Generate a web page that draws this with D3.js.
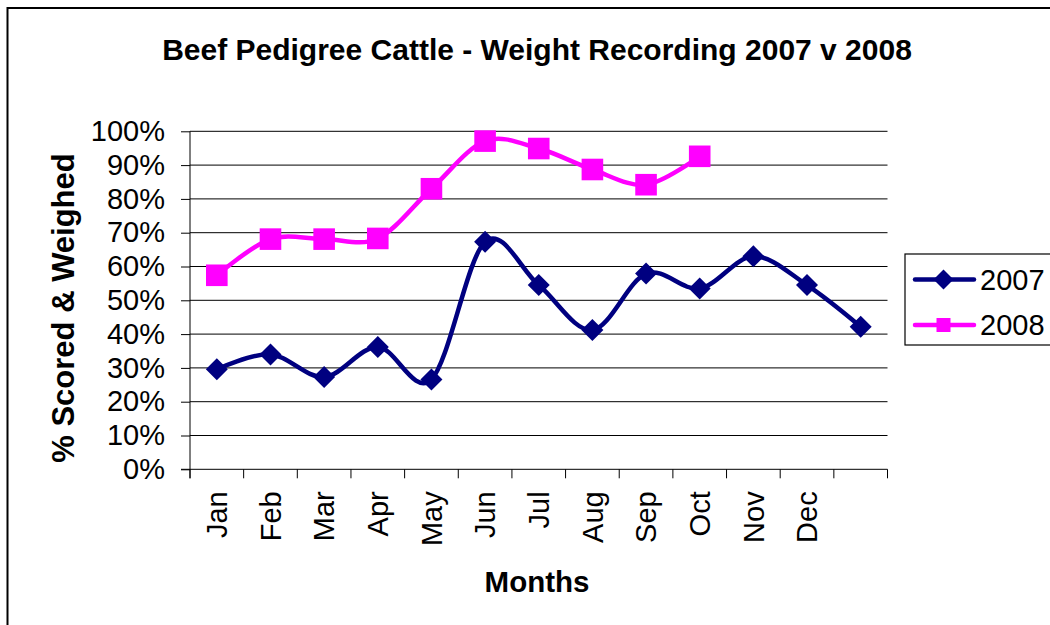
<!DOCTYPE html>
<html>
<head>
<meta charset="utf-8">
<script src="https://cdnjs.cloudflare.com/ajax/libs/d3/7.8.5/d3.min.js"></script>
<style>
	body { margin: 0; background: #fff; }
	text { font-family: "Liberation Sans", Arial, sans-serif; fill: #000; }
</style>
</head>
<body>
<div id="chart"></div>
<script>
	// categories (last slot is blank in the original sheet)
	var months = ["Jan", "Feb", "Mar", "Apr", "May", "Jun", "Jul", "Aug", "Sep", "Oct", "Nov", "Dec", ""];
	var values2007 = [29.6, 34.0, 27.3, 36.2, 26.6, 67.3, 54.5, 41.2, 57.9, 53.5, 63.0, 54.5, 42.2];
	var values2008 = [57.4, 68.1, 68.1, 68.3, 83.0, 97.1, 94.9, 88.7, 84.2, 92.6];
	var yTicks = [0, 10, 20, 30, 40, 50, 60, 70, 80, 90, 100];
	var seriesNames = ["2007", "2008"];
	var seriesColors = ["#000080", "#ff00ff"];

	var WIDTH = 1050, HEIGHT = 625, MARGINS = {
		top : 131.3,
		right : 162.5,
		bottom : 155.7,
		left : 190
	};

	var svg = d3.select('#chart').append('svg').attr('width', WIDTH).attr('height', HEIGHT);

	// chart frame, runs off the right and bottom edges like the original
	svg.append('rect').attr('x', 7.5).attr('y', 8).attr('width', 1100).attr('height', 700)
			.attr('fill', 'none').attr('stroke', '#000').attr('stroke-width', 2);

	var xScale = d3.scaleBand().domain(months).range([ MARGINS.left, WIDTH - MARGINS.right ]);
	var yScale = d3.scaleLinear().domain([ 0, 100 ]).range([ HEIGHT - MARGINS.bottom, MARGINS.top ]);
	var xMid = function(i) { return xScale(months[i]) + xScale.bandwidth() / 2; };

	// gridlines
	svg.append('g').selectAll('line').data(yTicks.slice(1)).enter().append('line')
			.attr('x1', MARGINS.left).attr('x2', WIDTH - MARGINS.right)
			.attr('y1', function(d) { return yScale(d); }).attr('y2', function(d) { return yScale(d); })
			.attr('stroke', '#000').attr('stroke-width', 1);

	// y axis
	var yAxis = d3.axisLeft(yScale).tickValues(yTicks).tickSize(9).tickPadding(16)
			.tickFormat(function(d) { return d + '%'; });
	var gY = svg.append('g').attr('transform', 'translate(' + MARGINS.left + ',0)').call(yAxis);
	gY.select('.domain').attr('d', 'M0,' + MARGINS.top + 'V' + (HEIGHT - MARGINS.bottom + 9));
	gY.selectAll('text').style('font-size', '29px').style('font-family', '"Liberation Sans", Arial, sans-serif');

	// x axis with ticks between categories
	var boundaries = months.map(function(m) { return xScale(m); }).concat([ WIDTH - MARGINS.right ]);
	var gX = svg.append('g');
	gX.append('line').attr('x1', MARGINS.left - 9).attr('x2', WIDTH - MARGINS.right)
			.attr('y1', yScale(0)).attr('y2', yScale(0)).attr('stroke', '#000');
	gX.selectAll('.xtick').data(boundaries).enter().append('line').attr('class', 'xtick')
			.attr('x1', function(d) { return d; }).attr('x2', function(d) { return d; })
			.attr('y1', yScale(0)).attr('y2', yScale(0) + 9).attr('stroke', '#000');
	gX.selectAll('.xlabel').data(months).enter().append('text').attr('class', 'xlabel')
			.attr('transform', function(d, i) { return 'translate(' + xMid(i) + ',' + (yScale(0) + 22) + ') rotate(-90)'; })
			.attr('dy', '0.35em').style('text-anchor', 'end').style('font-size', '29px')
			.text(function(d) { return d; });

	// titles
	svg.append('text').attr('x', 537).attr('y', 60).style('text-anchor', 'middle')
			.style('font-size', '30px').style('font-weight', 'bold')
			.text('Beef Pedigree Cattle - Weight Recording 2007 v 2008');
	svg.append('text').attr('x', 537).attr('y', 592).style('text-anchor', 'middle')
			.style('font-size', '29.5px').style('font-weight', 'bold').text('Months');
	svg.append('text').attr('transform', 'translate(74,308) rotate(-90)').style('text-anchor', 'middle')
			.style('font-size', '31px').style('font-weight', 'bold').text('% Scored & Weighed');

	// series
	var lineGen = d3.line().curve(d3.curveCardinal.tension(0))
			.x(function(d, i) { return xMid(i); }).y(function(d) { return yScale(d); });
	var diamond = function(s) { return 'M0,' + (-s) + 'L' + s + ',0L0,' + s + 'L' + (-s) + ',0Z'; };
	var square = function(s) { return 'M' + (-s) + ',' + (-s) + 'H' + s + 'V' + s + 'H' + (-s) + 'Z'; };

	[ values2007, values2008 ].forEach(function(vals, k) {
		svg.append('path').attr('d', lineGen(vals)).attr('fill', 'none')
				.attr('stroke', seriesColors[k]).attr('stroke-width', 4.5).attr('stroke-linejoin', 'round');
		svg.append('g').selectAll('path').data(vals).enter().append('path')
				.attr('transform', function(d, i) { return 'translate(' + xMid(i) + ',' + yScale(d) + ')'; })
				.attr('d', k === 0 ? diamond(11) : square(10.8)).attr('fill', seriesColors[k]);
	});

	// legend
	var legend = svg.append('g');
	legend.append('rect').attr('x', 905).attr('y', 254).attr('width', 200).attr('height', 91)
			.attr('fill', '#fff').attr('stroke', '#000').attr('stroke-width', 1.2);
	seriesNames.forEach(function(name, k) {
		var ly = 279.5 + k * 45.5;
		legend.append('line').attr('x1', 915).attr('x2', 974).attr('y1', ly).attr('y2', ly)
				.attr('stroke', seriesColors[k]).attr('stroke-width', 4.5).attr('stroke-linecap', 'round');
		legend.append('path').attr('transform', 'translate(943.5,' + ly + ')')
				.attr('d', k === 0 ? diamond(10) : square(7)).attr('fill', seriesColors[k]);
		legend.append('text').attr('x', 980).attr('y', ly).attr('dy', '0.35em')
				.style('font-size', '29px').text(name);
	});
</script>
</body>
</html>
